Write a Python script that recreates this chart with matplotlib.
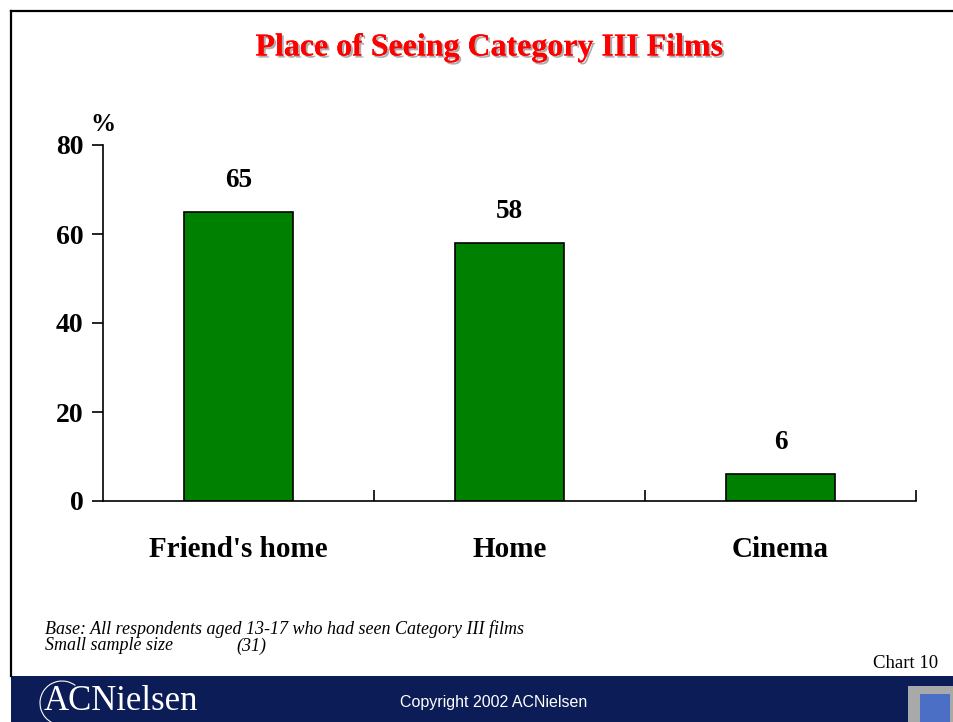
import matplotlib

matplotlib.use("Agg")
import matplotlib.pyplot as plt
from matplotlib.patches import Rectangle, Arc
from matplotlib.lines import Line2D
import matplotlib.patheffects as pe

categories = ["Friend's home", "Home", "Cinema"]
values = [65, 58, 6]
y_ticks = [0, 20, 40, 60, 80]

SERIF = ["Liberation Serif", "DejaVu Serif"]
NAVY = "#0B1C56"

fig = plt.figure(figsize=(9.54, 7.22), dpi=100)
fig.patch.set_facecolor("white")

# slide frame (top and left lines) and footer banner
fig.add_artist(Line2D([11 / 954, 1.0], [1 - 11 / 722, 1 - 11 / 722],
                      color="black", linewidth=1.6, transform=fig.transFigure))
fig.add_artist(Line2D([11 / 954, 11 / 954], [1 - 11 / 722, 46 / 722],
                      color="black", linewidth=1.6, transform=fig.transFigure))
fig.add_artist(Rectangle((11 / 954, 0), 1 - 11 / 954, 46 / 722, facecolor=NAVY,
                         edgecolor="none", transform=fig.transFigure))

ax = fig.add_axes([103 / 954, 221 / 722, 813 / 954, 356 / 722])
x = range(len(categories))
ax.bar(x, values, width=0.4, color="#008000", edgecolor="black", linewidth=1.2)
for i, v in enumerate(values):
    ax.text(i, v + 4.3, f"{v}", ha="center", va="bottom", fontsize=19.5,
            fontweight="bold", family=SERIF)

ax.set_xlim(-0.5, len(categories) - 0.5)
ax.set_ylim(0, 80)
ax.set_yticks(y_ticks)
ax.set_yticklabels([str(t) for t in y_ticks], fontsize=20, fontweight="bold", family=SERIF)
ax.set_xticks([i + 0.5 for i in x])
ax.set_xticklabels([])
ax.tick_params(axis="x", direction="in", length=8, width=1.2)
ax.tick_params(axis="y", direction="out", length=8, width=1.2, pad=6)
for i, c in enumerate(categories):
    ax.text(i, -11, c, ha="center", va="center", fontsize=21, fontweight="bold",
            family=SERIF)
for s in ["top", "right"]:
    ax.spines[s].set_visible(False)
for s in ["left", "bottom"]:
    ax.spines[s].set_linewidth(1.2)

ax.text(-0.5, 82, "%", ha="center", va="bottom", fontsize=18, fontweight="bold",
        family=SERIF)

fig.text(490 / 954, 1 - 48 / 722, "Place of Seeing Category III Films", ha="center",
         va="center", fontsize=23, fontweight="bold", color="#FF0000", family=SERIF,
         path_effects=[pe.withSimplePatchShadow(offset=(1.5, -1.5), shadow_rgbFace="#999999",
                                                alpha=0.8), pe.Normal()])

fig.text(45 / 954, 1 - 629 / 722, "Base: All respondents aged 13-17 who had seen Category III films",
         ha="left", va="center", fontsize=13, style="italic", family=SERIF)
fig.text(45 / 954, 1 - 646 / 722, "Small sample size", ha="left", va="center",
         fontsize=13, style="italic", family=SERIF)
fig.text(236 / 954, 1 - 646 / 722, "(31)", ha="left", va="center",
         fontsize=13, style="italic", family=SERIF)
fig.text(938 / 954, 1 - 663 / 722, "Chart 10", ha="right", va="center",
         fontsize=13.5, family=SERIF)

fig.text(494 / 954, 1 - 702 / 722, "Copyright 2002 ACNielsen", ha="center",
         va="center", fontsize=11.5, color="white", family=["Liberation Sans", "DejaVu Sans"])
fig.text(44 / 954, 1 - 702 / 722, "ACNielsen", ha="left", va="center", fontsize=25,
         color="white", family=SERIF)
fig.add_artist(Arc((62 / 954, 1 - 703 / 722), 44 / 954, 44 / 722, theta1=60, theta2=250,
                   color="white", linewidth=0.8, transform=fig.transFigure))

# small emblem bottom right
fig.add_artist(Rectangle((908 / 954, 0), 46 / 954, 36 / 722, facecolor="#A9A9A9",
                         edgecolor="none", transform=fig.transFigure))
fig.add_artist(Rectangle((920 / 954, 0), 30 / 954, 28 / 722, facecolor="#4A6FC4",
                         edgecolor="none", transform=fig.transFigure))

fig.savefig("out.png", dpi=100)
